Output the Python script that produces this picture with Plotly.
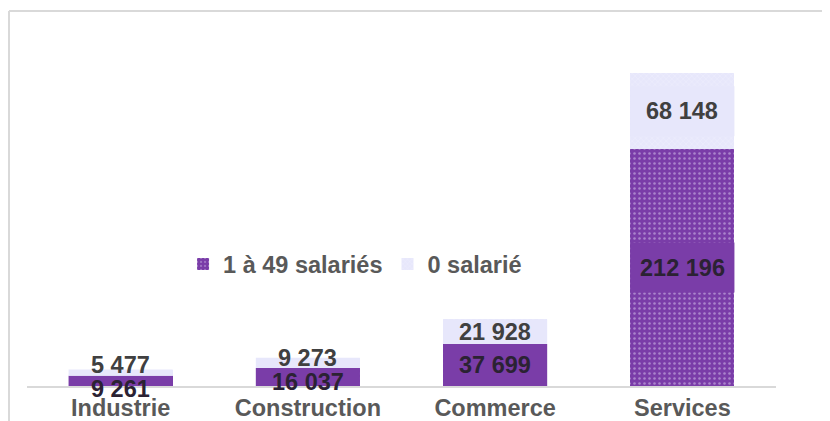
import plotly.graph_objects as go

categories = ["Industrie", "Construction", "Commerce", "Services"]
series_names = ["1 à 49 salariés", "0 salarié"]
small_firms = [9261, 16037, 37699, 212196]   # 1 à 49 salariés
no_employee = [5477, 9273, 21928, 68148]     # 0 salarié
value_labels_small = ["9 261", "16 037", "37 699", "212 196"]
value_labels_zero = ["5 477", "9 273", "21 928", "68 148"]

PURPLE = "#7A3DA8"
LAVENDER = "#E7E7FB"
FONT = "Liberation Sans, Arial, sans-serif"

# the page body adds an 8px offset; figure coordinates compensate for it
W, H = 830, 421
ML, MR, MT, MB = 19, 62, 3, 43
plot_h = H - MT - MB
plot_w = W - ML - MR
YMAX = 336000
BARW = 0.556
px_per_unit = plot_h / YMAX


def bold(size, color):
    return dict(family=FONT, size=size, color=color, weight="bold")


fig = go.Figure()
fig.add_trace(go.Bar(
    x=categories, y=small_firms, name=series_names[0], width=BARW,
    marker=dict(color=PURPLE, line=dict(width=0),
                pattern=dict(shape=".", fillmode="overlay", fgcolor="#DCCBF0",
                             size=5, solidity=0.2)),
    hoverinfo="skip",
))
fig.add_trace(go.Bar(
    x=categories, y=no_employee, name=series_names[1], width=BARW,
    marker=dict(color=LAVENDER, line=dict(width=0),
                pattern=dict(shape="x", fillmode="overlay", fgcolor="#FFFFFF",
                             size=4, solidity=0.15)),
    hoverinfo="skip",
))

shapes = []
annotations = []
BOX_PX = 50
for i, cat in enumerate(categories):
    segs = [(0, small_firms[i], PURPLE), (small_firms[i], small_firms[i] + no_employee[i], LAVENDER)]
    centers = []
    for (y0, y1, col) in segs:
        c = (y0 + y1) / 2
        half = BOX_PX / 2 / px_per_unit
        b0 = max(y0, c - half)
        b1 = min(y1, c + half)
        shapes.append(dict(type="rect", xref="x", yref="y", x0=i - BARW / 2, x1=i + BARW / 2,
                           y0=b0, y1=b1, fillcolor=col, line=dict(width=0), layer="above"))
        centers.append((y0 + y1) / 2)
    cb_px, ct_px = centers[0] * px_per_unit, centers[1] * px_per_unit
    minsep = 24
    shift_b = shift_t = 0.0
    if ct_px - cb_px < minsep:
        mid = (ct_px + cb_px) / 2
        shift_b = (mid - minsep / 2) - cb_px
        shift_t = (mid + minsep / 2) - ct_px
    annotations.append(dict(x=i, y=centers[0], xref="x", yref="y", text=value_labels_small[i],
                            showarrow=False, font=bold(23.5, "#2B2233"), yshift=shift_b,
                            xanchor="center", yanchor="middle"))
    annotations.append(dict(x=i, y=centers[1], xref="x", yref="y", text=value_labels_zero[i],
                            showarrow=False, font=bold(23.5, "#404040"), yshift=shift_t,
                            xanchor="center", yanchor="middle"))

# outer frame lines (left and top)
fx0 = (1 - ML) / plot_w
fx1 = (W - ML) / plot_w
shapes.append(dict(type="line", xref="paper", yref="paper", x0=fx0, x1=fx1, y0=1, y1=1,
                   line=dict(color="#D9D9D9", width=2)))
shapes.append(dict(type="line", xref="paper", yref="paper", x0=fx0, x1=fx0, y0=-MB / plot_h, y1=1,
                   line=dict(color="#D9D9D9", width=2)))

fig.update_layout(
    width=W, height=H,
    margin=dict(l=ML, r=MR, t=MT, b=MB, pad=0, autoexpand=False),
    barmode="stack",
    paper_bgcolor="white", plot_bgcolor="white",
    font=bold(23.5, "#595959"),
    shapes=shapes, annotations=annotations,
    showlegend=True,
    legend=dict(orientation="h", x=0.438, y=0.325, xanchor="center", yanchor="middle",
                bgcolor="rgba(0,0,0,0)", font=bold(23.5, "#595959"),
                traceorder="normal", itemwidth=30),
    xaxis=dict(showline=True, linecolor="#D9D9D9", linewidth=2, showgrid=False, ticks="",
               tickfont=bold(23.5, "#595959"), zeroline=False, automargin=False),
    yaxis=dict(range=[0, YMAX], visible=False, showgrid=False, zeroline=False, automargin=False),
    bargap=1 - BARW,
)

fig.write_html("out.html")
